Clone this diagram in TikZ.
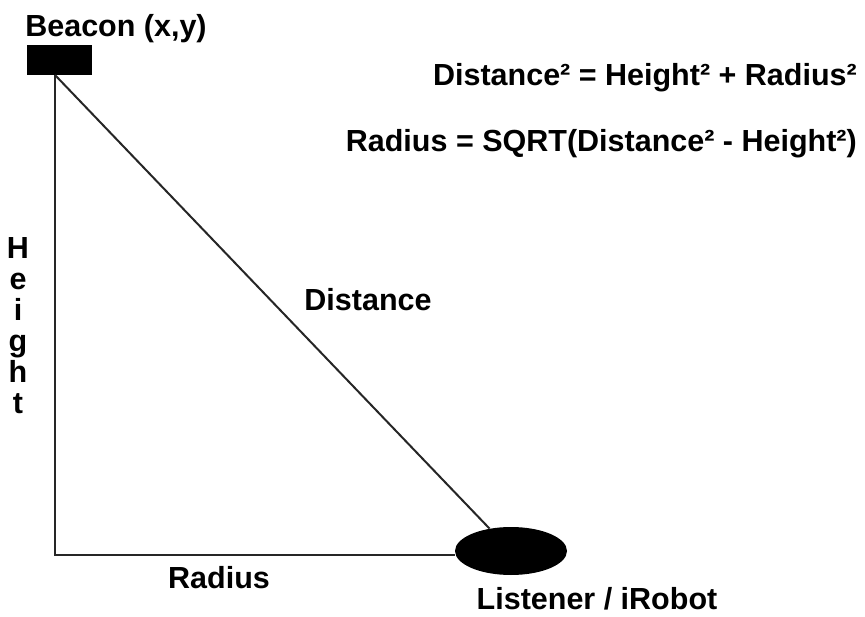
\documentclass[tikz,border=0pt]{standalone}
\usepackage{fontspec}
\setmainfont{Liberation Sans}
\usetikzlibrary{shapes.geometric}
\begin{document}
\begin{tikzpicture}[x=1pt,y=-1pt,
  lbl/.style={font=\bfseries\fontsize{30.5}{33}\selectfont, inner sep=0pt},
  conn/.style={line width=2pt, draw=black!85}]
\useasboundingbox (0,0) rectangle (865,617);
\node[fill=black, minimum width=65pt, minimum height=30pt, inner sep=0pt] (beacon) at (59.5,60) {};
\node[ellipse, fill=black, minimum width=112pt, minimum height=48pt, inner sep=0pt] (listener) at (511,551) {};
\coordinate (top) at (55,75);
\coordinate (corner) at (55,555);
\draw[conn] (top) -- (corner) -- (corner -| listener.west);
\draw[conn] (top) -- (listener);
\node[lbl, anchor=base] (tbeacon) at (116,37) {Beacon (x,y)};
\node[lbl, anchor=base east] (f1) at (857,86) {Distance² = Height² + Radius²};
\node[lbl, anchor=base east] (f2) at (857,152) {Radius = SQRT(Distance² - Height²)};
\node[lbl] (tdist) at (368,300) {Distance};
\node[lbl, align=center, font=\bfseries\fontsize{30.5}{31}\selectfont] (theight) at (18,326) {H\\e\\i\\g\\h\\t};
\node[lbl] (trad) at (219,578) {Radius};
\node[lbl] (tlist) at (597,599) {Listener / iRobot};
\end{tikzpicture}
\end{document}
